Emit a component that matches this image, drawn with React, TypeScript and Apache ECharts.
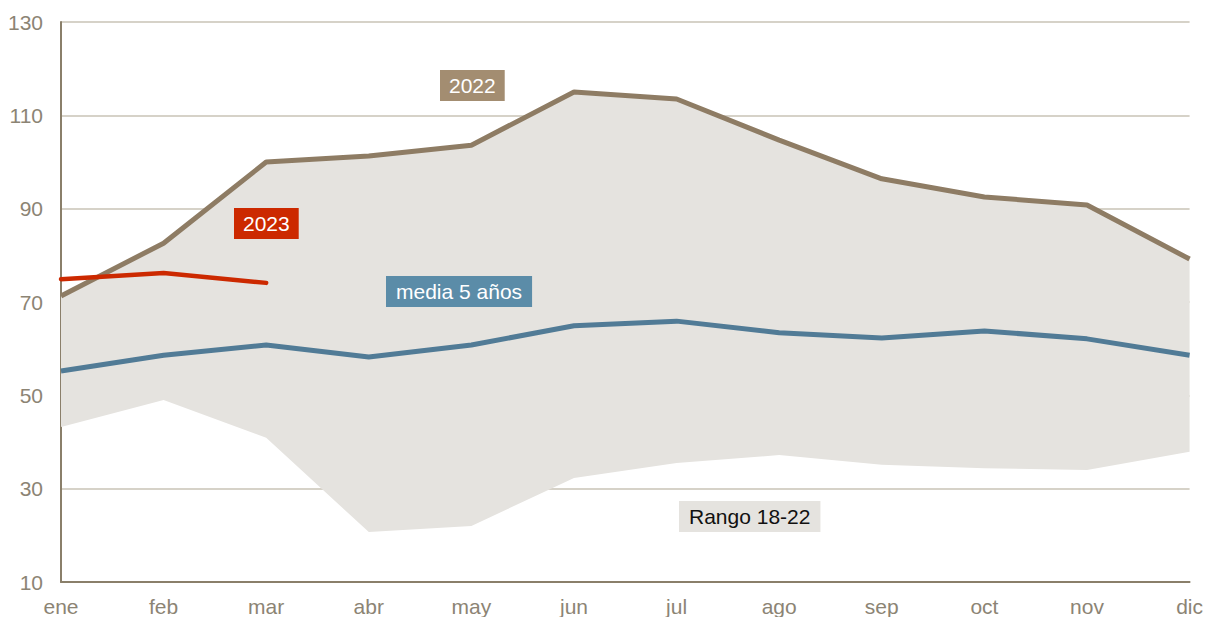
import React, { useEffect, useRef } from "react";
import * as echarts from "echarts";

const months = ["ene", "feb", "mar", "abr", "may", "jun", "jul", "ago", "sep", "oct", "nov", "dic"];
const yTicks = [10, 30, 50, 70, 90, 110, 130];
const rangeLow = [43.2, 49, 40.9, 20.7, 22, 32.3, 35.5, 37.2, 35.1, 34.4, 34, 37.9];
const rangeHigh = [71.3, 82.6, 100, 101.3, 103.6, 115, 113.5, 104.7, 96.4, 92.5, 90.8, 79.2];
const y2022 = [71.3, 82.6, 100, 101.3, 103.6, 115, 113.5, 104.7, 96.4, 92.5, 90.8, 79.2];
const y2023 = [74.9, 76.2, 74.1];
const media5 = [55.2, 58.6, 60.8, 58.2, 60.8, 64.9, 65.9, 63.4, 62.3, 63.8, 62.1, 58.6];

const FONT = "'Liberation Sans', Arial, sans-serif";
const AXIS_TXT = "#8c8474";

export default function App() {
  const ref = useRef<HTMLDivElement>(null);
  useEffect(() => {
    if (!ref.current) return;
    const chart = echarts.init(ref.current, null, { renderer: "svg" });
    const bandSize = rangeHigh.map((h, i) => +(h - rangeLow[i]).toFixed(2));
    chart.setOption({
      animation: false,
      textStyle: { fontFamily: FONT },
      grid: { left: 61, right: 16, top: 22, bottom: 35, containLabel: false },
      xAxis: {
        type: "category",
        data: months,
        boundaryGap: false,
        axisLine: { show: true, lineStyle: { color: "#8a7f6a", width: 2 } },
        axisTick: { show: false },
        axisLabel: { color: AXIS_TXT, fontSize: 21, fontFamily: FONT, margin: 14 },
        splitLine: { show: false },
      },
      yAxis: {
        type: "value",
        min: yTicks[0],
        max: yTicks[yTicks.length - 1],
        interval: 20,
        axisLine: { show: true, lineStyle: { color: "#8a7f6a", width: 2 } },
        axisTick: { show: false },
        axisLabel: { color: AXIS_TXT, fontSize: 21, fontFamily: FONT, margin: 18 },
        splitLine: { show: true, lineStyle: { color: "#c9c3b6", width: 1.5 } },
      },
      series: [
        {
          name: "low",
          type: "line",
          stack: "range",
          data: rangeLow,
          symbol: "none",
          lineStyle: { opacity: 0 },
          silent: true,
          z: 1,
        },
        {
          name: "Rango 18-22",
          type: "line",
          stack: "range",
          data: bandSize,
          symbol: "none",
          lineStyle: { opacity: 0 },
          areaStyle: { color: "#e5e3df", opacity: 1 },
          silent: true,
          z: 1,
        },
        {
          name: "media 5 años",
          type: "line",
          data: media5,
          symbol: "none",
          lineStyle: { color: "#517b96", width: 5 },
          z: 3,
        },
        {
          name: "2022",
          type: "line",
          data: y2022,
          symbol: "none",
          lineStyle: { color: "#8e7c64", width: 5 },
          z: 4,
        },
        {
          name: "2023",
          type: "line",
          data: y2023,
          symbol: "none",
          lineStyle: { color: "#cc2900", width: 4.5, cap: "round" },
          z: 5,
        },
      ],
      graphic: [
        {
          type: "text",
          left: 440,
          top: 70,
          z: 10,
          style: {
            text: "2022",
            fill: "#ffffff",
            font: `21px ${FONT}`,
            backgroundColor: "#a38d71",
            padding: [5, 9, 5, 9],
          },
        },
        {
          type: "text",
          left: 234,
          top: 208,
          z: 10,
          style: {
            text: "2023",
            fill: "#ffffff",
            font: `21px ${FONT}`,
            backgroundColor: "#cc2900",
            padding: [5, 9, 5, 9],
          },
        },
        {
          type: "text",
          left: 386,
          top: 276,
          z: 10,
          style: {
            text: "media 5 años",
            fill: "#ffffff",
            font: `21px ${FONT}`,
            backgroundColor: "#5b8ca8",
            padding: [5, 10, 5, 10],
          },
        },
        {
          type: "text",
          left: 679,
          top: 501,
          z: 10,
          style: {
            text: "Rango 18-22",
            fill: "#111111",
            font: `21px ${FONT}`,
            backgroundColor: "#e5e3df",
            padding: [5, 10, 5, 10],
          },
        },
      ],
    });
    return () => chart.dispose();
  }, []);
  return <div ref={ref} style={{ width: 1206, height: 617, position: "absolute", left: 0, top: 0 }} />;
}
